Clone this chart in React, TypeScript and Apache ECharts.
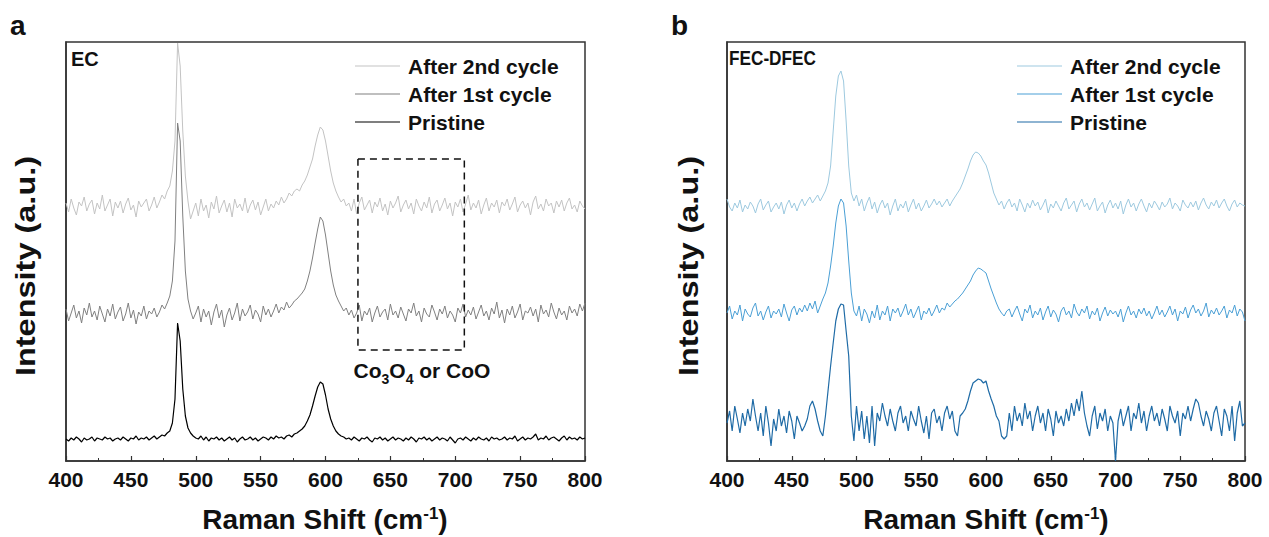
import React, { useEffect, useRef } from "react";
import * as echarts from "echarts";

const FONT = "'Liberation Sans', Arial, sans-serif";

// Raman shift (cm-1), shared by all spectra (2 cm-1 sampling)
const X = [
  400, 402, 404, 406, 408, 410, 412, 414, 416, 418,
  420, 422, 424, 426, 428, 430, 432, 434, 436, 438,
  440, 442, 444, 446, 448, 450, 452, 454, 456, 458,
  460, 462, 464, 466, 468, 470, 472, 474, 476, 478,
  480, 482, 484, 486, 488, 490, 492, 494, 496, 498,
  500, 502, 504, 506, 508, 510, 512, 514, 516, 518,
  520, 522, 524, 526, 528, 530, 532, 534, 536, 538,
  540, 542, 544, 546, 548, 550, 552, 554, 556, 558,
  560, 562, 564, 566, 568, 570, 572, 574, 576, 578,
  580, 582, 584, 586, 588, 590, 592, 594, 596, 598,
  600, 602, 604, 606, 608, 610, 612, 614, 616, 618,
  620, 622, 624, 626, 628, 630, 632, 634, 636, 638,
  640, 642, 644, 646, 648, 650, 652, 654, 656, 658,
  660, 662, 664, 666, 668, 670, 672, 674, 676, 678,
  680, 682, 684, 686, 688, 690, 692, 694, 696, 698,
  700, 702, 704, 706, 708, 710, 712, 714, 716, 718,
  720, 722, 724, 726, 728, 730, 732, 734, 736, 738,
  740, 742, 744, 746, 748, 750, 752, 754, 756, 758,
  760, 762, 764, 766, 768, 770, 772, 774, 776, 778,
  780, 782, 784, 786, 788, 790, 792, 794, 796, 798,
  800,
];

// Panel a (EC), stacked intensities (a.u.)
const EC_PRISTINE = [
  22, 20, 23, 21, 24, 22, 19, 23, 21, 22,
  24, 20, 23, 22, 21, 24, 22, 23, 20, 22,
  23, 21, 24, 22, 20, 23, 22, 25, 21, 23,
  22, 24, 21, 23, 25, 22, 24, 26, 25, 28,
  30, 38, 62, 138, 120, 72, 45, 33, 28, 25,
  23, 22, 25, 21, 24, 20, 23, 22, 24, 21,
  23, 20, 22, 24, 21, 23, 19, 22, 24, 21,
  22, 24, 21, 23, 20, 22, 24, 23, 21, 24,
  22, 25, 23, 24, 22, 25, 26, 24, 27, 28,
  30, 32, 35, 40, 46, 55, 65, 74, 79, 77,
  66, 52, 42, 35, 30, 27, 25, 24, 22, 23,
  21, 24, 22, 20, 23, 22, 24, 21, 19, 23,
  22, 24, 21, 23, 20, 22, 24, 21, 23, 22,
  20, 23, 21, 24, 22, 19, 23, 22, 24, 21,
  23, 20, 22, 24, 21, 23, 22, 20, 24, 21,
  18, 22, 23, 21, 24, 22, 20, 23, 21, 24,
  22, 21, 23, 20, 24, 22, 23, 21, 22, 24,
  21, 23, 22, 25, 20, 22, 24, 21, 23, 22,
  24, 27, 21, 23, 22, 25, 21, 23, 24, 22,
  20, 23, 25, 21, 24, 22, 23, 21, 24, 22,
  23,
];
const EC_CYCLE1 = [
  152, 140, 148, 156, 143, 150, 138, 153, 146, 158,
  144, 150, 141, 155, 147, 139, 152, 145, 157, 142,
  149, 154, 140, 147, 158, 143, 151, 137, 149, 145,
  155, 142, 150, 147, 153, 144, 149, 156, 152, 158,
  165, 180, 220, 338, 320, 245, 190, 162, 150, 142,
  148, 155, 139, 152, 144, 150, 136, 149, 157, 143,
  151, 134, 146, 153, 141, 148, 158, 140, 152, 145,
  149, 156, 142, 151, 147, 139, 155, 146, 152, 144,
  150, 157, 148, 154, 151, 159, 153, 156, 160, 162,
  165, 168, 172, 180, 190, 203, 218, 232, 244, 240,
  226, 208, 190, 176, 166, 160, 155, 150, 153, 146,
  151, 143, 148, 156, 140, 150, 146, 153, 139, 148,
  155, 144, 149, 152, 141, 157, 146, 150, 143, 154,
  147, 140, 152, 148, 158, 145, 150, 139, 153, 147,
  144, 156, 149, 141, 152, 147, 155, 143, 150, 146,
  139, 153, 148, 157, 144, 151, 146, 154, 142, 149,
  156, 145, 150, 141, 153, 147, 159, 143, 151, 138,
  152, 146, 155, 143, 149, 157, 141, 150, 148, 154,
  145, 152, 139, 156, 147, 151, 144, 158, 149, 142,
  153, 146, 150, 141, 155, 148, 152, 145, 157, 150,
  158,
];
const EC_CYCLE2 = [
  258, 249, 262, 253, 246, 259, 255, 264, 250, 257,
  261, 247, 258, 252, 266, 250, 256, 262, 245, 259,
  253, 260, 248, 257, 263, 251, 256, 244, 260, 254,
  258, 262, 250, 256, 264, 253, 259, 266, 262, 270,
  275, 290, 320, 418, 395, 330, 285, 260, 242, 250,
  258, 245, 262, 250, 256, 243, 259, 252, 265, 248,
  255, 261, 249, 258, 244, 262, 253, 257, 250, 263,
  248, 256, 261, 251, 259, 246, 254, 262, 250, 257,
  253, 260, 256, 264, 258, 262, 268, 265, 270, 272,
  270, 276, 280, 286, 294, 302, 315, 326, 334, 331,
  320, 305, 290, 278, 270, 264, 259, 262, 255, 258,
  250, 262, 247, 258, 264, 251, 256, 261, 248, 259,
  254, 263, 250, 257, 246, 260, 253, 258, 265, 249,
  256, 261, 252, 258, 247, 262, 255, 250, 259, 253,
  264, 248, 257, 261, 250, 256, 263, 252, 258, 245,
  259, 254, 262, 249, 257, 266, 251, 258, 253, 261,
  247, 256, 263, 250, 258, 254, 261, 248, 259, 255,
  262, 251, 257, 264, 249, 256, 260, 253, 258, 246,
  259, 265, 252, 257, 250, 262, 255, 258, 248, 260,
  254, 261, 250, 258, 263, 252, 256, 249, 260, 255,
  252,
];

// Panel b (FEC-DFEC), stacked intensities (a.u.)
const FEC_PRISTINE = [
  38, 50, 30, 55, 42, 28, 48, 35, 52, 40,
  62, 45, 30, 48, 25, 55, 38, 15, 42, 30,
  52, 35, 45, 28, 50, 40, 22, 45, 38, 30,
  35, 42, 55, 60, 52, 40, 30, 25, 45, 70,
  95, 118, 140, 152, 157, 156, 130, 105, 45, 20,
  55, 30, 50, 22, 45, 18, 55, 15, 48, 40,
  58, 45, 35, 52, 40, 30, 48, 55, 38, 45,
  30, 50, 42, 35, 55, 40, 28, 45, 22, 48,
  52, 38, 45, 30, 48, 55, 42, 50, 30, 25,
  45, 48, 52, 60, 70, 78, 80, 82, 81, 78,
  80, 70, 62, 55, 45, 40, 25, 22, 25, 48,
  30, 55, 40, 48, 35, 58, 42, 50, 30, 45,
  55, 38, 48, 30, 52, 42, 25, 50, 38, 45,
  35, 52, 40, 58, 45, 62, 50, 70, 48, 35,
  25, 45, 55, 32, 48, 40, 52, 30, 45, 38,
  0, 40, 52, 35, 45, 55, 30, 48, 42, 58,
  38, 50, 30, 45, 55, 40, 48, 35, 52, 42,
  30, 55, 45, 38, 50, 25, 48, 42, 55, 40,
  52, 62, 58, 45, 35, 50, 42, 30, 48, 55,
  40, 25, 52, 45, 30, 55, 20, 48, 60, 35,
  38,
];
const FEC_CYCLE1 = [
  148, 155, 142, 150, 146, 156, 140, 152, 147, 144,
  153, 158, 145, 150, 141, 149, 155, 143, 150, 147,
  152, 144, 157, 148, 140, 151, 155, 146, 153, 149,
  156, 150, 158, 152, 160, 148, 155, 162, 168, 178,
  195, 215, 238, 255, 262, 258, 235, 200, 168, 150,
  145, 155, 140, 152, 147, 138, 150, 143, 156, 141,
  150, 146, 155, 140, 152, 148, 153, 144, 150, 157,
  146, 152, 143, 149, 155, 141, 150, 147, 153, 145,
  150, 156, 148, 153, 151, 158, 154, 157, 160, 162,
  165, 168, 172, 176, 180, 186, 190, 193, 192, 190,
  188, 180, 172, 165, 158, 152, 148, 145, 150, 152,
  144, 150, 155, 147, 140, 152, 148, 156, 143, 150,
  146, 153, 141, 149, 155, 144, 151, 147, 139, 150,
  154, 146, 150, 143, 157, 149, 145, 152, 148, 155,
  142, 150, 146, 153, 140, 148, 154, 145, 151, 147,
  150, 144, 152, 139, 148, 155, 146, 150, 143, 152,
  147, 153, 145, 150, 142, 148, 155, 146, 151, 144,
  149, 155, 146, 152, 140, 150, 147, 154, 143, 151,
  156, 148, 152, 145, 150, 158, 144, 151, 147, 153,
  146, 150, 155, 143, 151, 148, 156, 145, 152, 149,
  140,
];
const FEC_CYCLE2 = [
  262, 254, 250, 258, 253, 261, 249, 256, 252, 259,
  255, 248, 257, 262, 251, 256, 260, 249, 254, 258,
  252, 259, 247, 256, 261, 253, 258, 250, 257, 262,
  255, 260, 264, 258, 262, 266, 260, 265, 270, 278,
  295, 330, 365, 385, 390, 380, 340, 295, 268, 260,
  266, 255, 262, 250, 258, 264, 252, 259, 248, 256,
  261, 253, 258, 246, 255, 262, 250, 257, 253, 260,
  249, 256, 262, 252, 258, 250, 255, 261, 253, 257,
  262, 256, 260, 254, 258, 262, 255, 260, 264, 268,
  272, 278, 285, 292, 300, 306, 309, 308, 305, 300,
  296, 288, 278, 268, 262, 256, 260, 252, 258, 262,
  254, 258, 250, 262, 256, 249, 258, 253, 261, 255,
  259, 251, 256, 262, 248, 257, 253, 260, 255, 250,
  258, 263, 252, 256, 260, 249, 257, 262, 254, 258,
  251, 257, 263, 250, 255, 259, 248, 256, 261, 253,
  258, 252, 260, 247, 256, 262, 254, 258, 250, 257,
  262, 255, 249, 258, 253, 260, 256, 251, 259, 254,
  257, 263, 252, 258, 255, 250, 261, 256, 253, 259,
  254, 260, 251, 258, 263, 256, 252, 259, 255, 261,
  253, 258, 262, 255, 250, 257, 261, 254, 258, 256,
  255,
];

// Dashed box around the Co3O4 / CoO region (panel a)
const BOX_X = [625, 707, 707, 625, 625];
const BOX_Y = [302, 302, 111, 111, 302];

const LEGEND_NAMES = ["After 2nd cycle", "After 1st cycle", "Pristine"];
const EC_COLORS = ["#c3c3c3", "#808080", "#000000"];
const FEC_COLORS = ["#9dc9df", "#4a9fd5", "#1f6ba6"];
const X_MIN = 400;
const X_MAX = 800;
const X_STEP = 50;
const Y_MAX = 419;

const pairs = (xs: number[], ys: number[]) => ys.map((y, i) => [xs[i], y]);

export default function App() {
  const ref = useRef<HTMLDivElement>(null);
  useEffect(() => {
    if (!ref.current) return;
    const chart = echarts.init(ref.current, null, { renderer: "svg" });

    const grids = [
      { left: 66, top: 42, width: 519, height: 419 },
      { left: 727, top: 42, width: 518, height: 419 },
    ];

    const xAxisBase = (gi: number) => ({
      gridIndex: gi,
      type: "value",
      min: X_MIN,
      max: X_MAX,
      interval: X_STEP,
      axisLine: { show: true, onZero: false, lineStyle: { color: "#333", width: 1.5 } },
      axisTick: { show: true, inside: true, length: 5, lineStyle: { color: "#333", width: 1.2 } },
      minorTick: { show: true, splitNumber: 2, length: 3, lineStyle: { color: "#333" } },
      splitLine: { show: false },
      axisLabel: { fontSize: 21, fontWeight: "bold", color: "#111", fontFamily: FONT, margin: 8 },
    });
    const yAxisBase = (gi: number) => ({
      gridIndex: gi,
      type: "value",
      min: 0,
      max: Y_MAX,
      axisLine: { show: true, lineStyle: { color: "#333", width: 1.5 } },
      axisTick: { show: false },
      axisLabel: { show: false },
      splitLine: { show: false },
    });

    const lineSeries = (gi: number, name: string, ys: number[], color: string, width = 1) => ({
      type: "line",
      name,
      xAxisIndex: gi,
      yAxisIndex: gi,
      data: pairs(X, ys),
      symbol: "none",
      lineStyle: { color, width },
      silent: true,
    });

    const legendGraphic = (x0: number, colors: string[]) =>
      LEGEND_NAMES.flatMap((n, i) => {
        const y = [66, 94, 122][i];
        return [
          { type: "line", shape: { x1: x0, y1: y, x2: x0 + 45, y2: y }, style: { stroke: colors[i], lineWidth: 1.2 } },
          {
            type: "text",
            x: x0 + 53,
            y,
            style: { text: n, fontSize: 21, fontWeight: "bold", fontFamily: FONT, fill: "#111", textVerticalAlign: "middle" },
          },
        ];
      });

    const xTitle = (cx: number) => ({
      type: "text",
      x: cx,
      y: 519,
      style: {
        text: "{a|Raman Shift (cm}{s|-1}{a|)}",
        textAlign: "center",
        textVerticalAlign: "middle",
        rich: {
          a: { fontSize: 28, fontWeight: "bold", fontFamily: FONT, fill: "#111", lineHeight: 28, verticalAlign: "bottom" },
          s: { fontSize: 17, fontWeight: "bold", fontFamily: FONT, fill: "#111", lineHeight: 28, verticalAlign: "top" },
        },
      },
    });
    const yTitle = (cx: number) => ({
      type: "text",
      x: cx,
      y: 266,
      rotation: Math.PI / 2,
      scaleX: 1.16,
      style: {
        text: "Intensity (a.u.)",
        textAlign: "center",
        textVerticalAlign: "middle",
        fontSize: 28,
        fontWeight: "bold",
        fontFamily: FONT,
        fill: "#111",
      },
    });

    chart.setOption({
      animation: false,
      backgroundColor: "#ffffff",
      grid: grids.map((g) => ({ ...g, show: true, borderColor: "#333", borderWidth: 1.5, backgroundColor: "transparent" })),
      xAxis: [xAxisBase(0), xAxisBase(1)],
      yAxis: [yAxisBase(0), yAxisBase(1)],
      series: [
        lineSeries(0, "EC " + LEGEND_NAMES[0], EC_CYCLE2, EC_COLORS[0]),
        lineSeries(0, "EC " + LEGEND_NAMES[1], EC_CYCLE1, EC_COLORS[1]),
        lineSeries(0, "EC " + LEGEND_NAMES[2], EC_PRISTINE, EC_COLORS[2], 1.2),
        {
          type: "line",
          name: "box",
          xAxisIndex: 0,
          yAxisIndex: 0,
          data: pairs(BOX_X, BOX_Y),
          symbol: "none",
          lineStyle: { color: "#111", width: 1.5, type: [7, 5] },
          silent: true,
        },
        lineSeries(1, "FEC " + LEGEND_NAMES[0], FEC_CYCLE2, FEC_COLORS[0]),
        lineSeries(1, "FEC " + LEGEND_NAMES[1], FEC_CYCLE1, FEC_COLORS[1]),
        lineSeries(1, "FEC " + LEGEND_NAMES[2], FEC_PRISTINE, FEC_COLORS[2], 1.2),
      ],
      graphic: [
        { type: "text", x: 10, y: 25, style: { text: "a", fontSize: 28, fontWeight: "bold", fontFamily: FONT, fill: "#111", textVerticalAlign: "middle" } },
        { type: "text", x: 671, y: 25, style: { text: "b", fontSize: 28, fontWeight: "bold", fontFamily: FONT, fill: "#111", textVerticalAlign: "middle" } },
        { type: "text", x: 71, y: 59, style: { text: "EC", fontSize: 20, fontWeight: "bold", fontFamily: FONT, fill: "#111", textVerticalAlign: "middle" } },
        { type: "text", x: 729, y: 58, scaleX: 0.86, style: { text: "FEC-DFEC", fontSize: 20, fontWeight: "bold", fontFamily: FONT, fill: "#111", textVerticalAlign: "middle" } },
        {
          type: "text",
          x: 422,
          y: 373,
          style: {
            text: "{a|Co}{s|3}{a|O}{s|4}{a| or CoO}",
            textAlign: "center",
            textVerticalAlign: "middle",
            rich: {
              a: { fontSize: 21, fontWeight: "bold", fontFamily: FONT, fill: "#111", lineHeight: 26, verticalAlign: "top" },
              s: { fontSize: 14, fontWeight: "bold", fontFamily: FONT, fill: "#111", lineHeight: 26, verticalAlign: "bottom" },
            },
          },
        },
        ...legendGraphic(355, EC_COLORS),
        ...legendGraphic(1017, FEC_COLORS),
        xTitle(325),
        xTitle(986),
        yTitle(25),
        yTitle(688),
      ],
    });
    return () => chart.dispose();
  }, []);
  return <div ref={ref} style={{ position: "absolute", left: 0, top: 0, width: 1269, height: 537 }} />;
}
